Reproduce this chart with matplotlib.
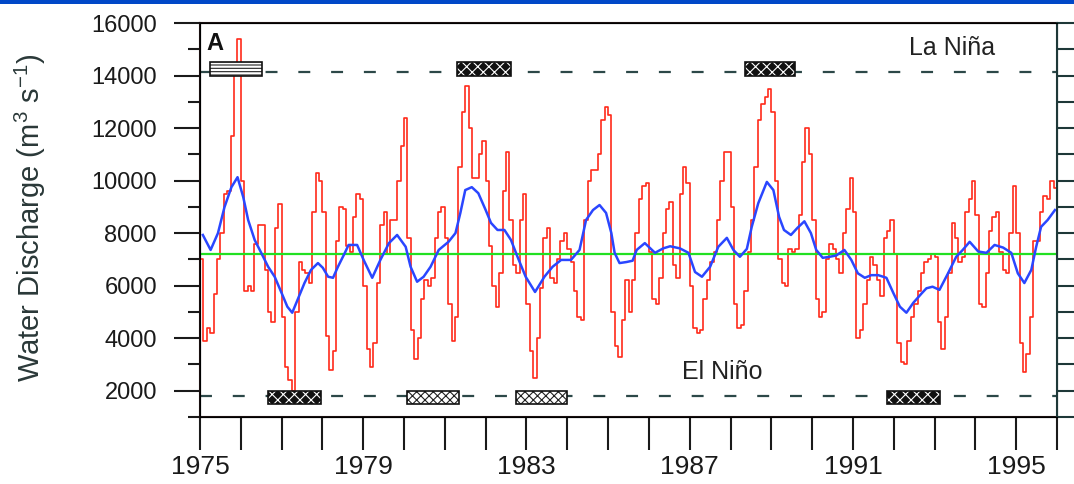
import numpy as np
import matplotlib
matplotlib.use("Agg")
import matplotlib.pyplot as plt
from matplotlib.patches import Rectangle

plt.rcParams['font.family'] = ['Liberation Sans', 'DejaVu Sans']
plt.rcParams['mathtext.fontset'] = 'custom'
plt.rcParams['mathtext.rm'] = 'Liberation Sans'
plt.rcParams['mathtext.it'] = 'Liberation Sans:italic'
plt.rcParams['mathtext.default'] = 'regular'
plt.rcParams['lines.scale_dashes'] = False

# monthly water discharge (m3/s), Jan 1975 .. Dec 1995, one row per year
q1975 = [7000, 3900, 4400, 4200, 5700, 7000, 8000, 9500, 9600, 11700, 14100, 15400]
q1976 = [10000, 5800, 6000, 5800, 7600, 8300, 8300, 6600, 5000, 4600, 8200, 9100]
q1977 = [4800, 2900, 2400, 2000, 5000, 6900, 6600, 6500, 6100, 8800, 10300, 10000]
q1978 = [8800, 4100, 2800, 3500, 7700, 9000, 8900, 7500, 7300, 8600, 9500, 9300]
q1979 = [6000, 3600, 2900, 3800, 6100, 8300, 8800, 7200, 8500, 8500, 10000, 11300]
q1980 = [12400, 7800, 4300, 3200, 4000, 5500, 6200, 6000, 6300, 7800, 8800, 9000]
q1981 = [7800, 5300, 3900, 4800, 10500, 12600, 13600, 12000, 10100, 10100, 11000, 11500]
q1982 = [10000, 7500, 6000, 5200, 6500, 9600, 11100, 8500, 6800, 6500, 8500, 9500]
q1983 = [5300, 3500, 2500, 4000, 5900, 7800, 8200, 6300, 6100, 7000, 7700, 8000]
q1984 = [7400, 6900, 5800, 4800, 4700, 8500, 10000, 10400, 10400, 11000, 12300, 12800]
q1985 = [12500, 5000, 3700, 3300, 4700, 6200, 5000, 6200, 8000, 9300, 9800, 9900]
q1986 = [7300, 5500, 5300, 6300, 8000, 8900, 9200, 6800, 6300, 9500, 10500, 9900]
q1987 = [6000, 4400, 4200, 4300, 5500, 6200, 6900, 7300, 8500, 10000, 11100, 11100]
q1988 = [9000, 5300, 4400, 4500, 5800, 7300, 8500, 10500, 12300, 12900, 13200, 13500]
q1989 = [12600, 10000, 7000, 6100, 6000, 7400, 7300, 7400, 8700, 10700, 12000, 11000]
q1990 = [8500, 5500, 4800, 5000, 7000, 7600, 7400, 7000, 6500, 8000, 8900, 10100]
q1991 = [8800, 4000, 4300, 5300, 6200, 7100, 6800, 6200, 5600, 7800, 8100, 8500]
q1992 = [7200, 3800, 3100, 3000, 3900, 4800, 5300, 5800, 6500, 6900, 7000, 7200]
q1993 = [7100, 4600, 3600, 4800, 6500, 8400, 7800, 6900, 7100, 8800, 9300, 10000]
q1994 = [8700, 5300, 5200, 6500, 8100, 8600, 8800, 7300, 6600, 6500, 8000, 9800]
q1995 = [8000, 3800, 2700, 3400, 4800, 7700, 7700, 8800, 9400, 9300, 10000, 9700]

# smoothed discharge (blue curve)
smooth_t = [1975.07, 1975.26, 1975.44, 1975.6, 1975.77, 1975.92,
            1976.06, 1976.18, 1976.34, 1976.5, 1976.67, 1976.83,
            1977.0, 1977.14, 1977.26, 1977.39, 1977.56, 1977.72, 1977.89,
            1978.01, 1978.14, 1978.26, 1978.38, 1978.55, 1978.64, 1978.85,
            1979.01, 1979.22, 1979.42, 1979.63, 1979.83,
            1980.04, 1980.16, 1980.32, 1980.48, 1980.65, 1980.85,
            1981.09, 1981.26, 1981.38, 1981.5, 1981.66, 1981.82,
            1982.0, 1982.13, 1982.29, 1982.46, 1982.62, 1982.78, 1982.98,
            1983.21, 1983.44, 1983.64, 1983.85,
            1984.09, 1984.3, 1984.46, 1984.63, 1984.79, 1984.95,
            1985.08, 1985.16, 1985.28, 1985.45, 1985.6, 1985.7, 1985.9,
            1986.15, 1986.35, 1986.52, 1986.76, 1986.97,
            1987.13, 1987.3, 1987.5, 1987.7, 1987.91,
            1988.07, 1988.23, 1988.4, 1988.52, 1988.68, 1988.89,
            1989.05, 1989.19, 1989.31, 1989.48, 1989.64, 1989.81, 1989.97,
            1990.1, 1990.26, 1990.43, 1990.59, 1990.79, 1990.96,
            1991.12, 1991.29, 1991.45, 1991.62, 1991.82, 1991.99,
            1992.15, 1992.31, 1992.48, 1992.68, 1992.8, 1992.95,
            1993.12, 1993.33, 1993.53, 1993.69, 1993.86,
            1994.07, 1994.27, 1994.47, 1994.68, 1994.88,
            1995.04, 1995.2, 1995.37, 1995.49, 1995.61, 1995.77, 1995.95]
smooth_q = [7930, 7360, 8000, 8990, 9750, 10130,
            9370, 8500, 7740, 7250, 6720, 6340,
            5720, 5200, 4970, 5460, 6100, 6600, 6860,
            6680, 6340, 6300, 6720, 7250, 7550, 7550,
            6980, 6300, 6980, 7620, 7930,
            7480, 6720, 6150, 6340, 6720, 7360,
            7670, 8000, 8770, 9640, 9750, 9520,
            8880, 8390, 8120, 8120, 7740, 7100, 6340,
            5760, 6340, 6720, 6980,
            6980, 7360, 8500, 8880, 9070, 8770,
            8000, 7250, 6860, 6900, 6950, 7360, 7620,
            7250, 7420, 7500, 7420, 7250,
            6520, 6340, 6720, 7480, 7820,
            7360, 7100, 7400, 8240, 9140, 9950,
            9640, 8620, 8120, 7930, 8200, 8450, 8000,
            7360, 7060, 7100, 7150, 7360, 6980,
            6470, 6300, 6400, 6400, 6300, 5720,
            5200, 4970, 5350, 5700, 5900, 5960,
            5840, 6470, 7100, 7360, 7670,
            7300, 7250, 7550, 7450, 7250,
            6470, 6100, 6600, 7480, 8240, 8500, 8880]

mean_q = 7200
nina_level = 14120
nino_level = 1800

# ENSO events (start, end, dark pattern?)
nina_events = [(1975.25, 1976.52, False), (1981.30, 1982.62, True), (1988.36, 1989.58, True)]
nino_events = [(1976.67, 1977.97, True), (1980.07, 1981.35, False),
               (1982.75, 1984.00, False), (1991.84, 1993.14, True)]

year_labels = [1975, 1979, 1983, 1987, 1991, 1995]


def event_box(ax, start, end, y0, y1, dark, light_hatch):
    if dark:
        ax.add_patch(Rectangle((start, y0), end - start, y1 - y0, facecolor='#111111',
                               edgecolor='white', hatch='xxx', lw=0, zorder=6))
    else:
        ax.add_patch(Rectangle((start, y0), end - start, y1 - y0, facecolor='white',
                               edgecolor='#222222', hatch=light_hatch, lw=0, zorder=6))
    ax.add_patch(Rectangle((start, y0), end - start, y1 - y0, facecolor='none',
                           edgecolor='#111111', lw=1.2, zorder=7))


plt.rcParams['hatch.linewidth'] = 0.8
fig = plt.figure(figsize=(10.74, 4.84), dpi=100)
ax = fig.add_axes([200 / 1074, 1 - 417 / 484, 857 / 1074, 394 / 484])

monthly = np.concatenate([q1975, q1976, q1977, q1978, q1979, q1980, q1981, q1982,
                          q1983, q1984, q1985, q1986, q1987, q1988, q1989, q1990,
                          q1991, q1992, q1993, q1994, q1995])
t = 1975 + np.arange(len(monthly) + 1) / 12.0
ax.step(t, np.append(monthly, monthly[-1]), where='post', color='#ff2a1a', lw=1.2, zorder=3)
ax.axhline(mean_q, color='#22e022', lw=1.6, zorder=4)
ax.plot(smooth_t, smooth_q, color='#2a46ff', lw=1.8, zorder=5)

# ENSO threshold lines
for lev in (nina_level, nino_level):
    ax.axhline(lev, color='#2c4848', lw=1.6, dashes=(8.6, 15), zorder=2)

for s, e, dark in nina_events:
    event_box(ax, s, e, 14000, 14500, dark, '-----')
for s, e, dark in nino_events:
    event_box(ax, s, e, 1480, 1990, dark, 'xxxx')

ax.text(0.007, 0.978, 'A', transform=ax.transAxes, ha='left', va='top',
        fontsize=17, fontweight='bold', color='#111111')
ax.text(1993.43, 15040, 'La Niña', ha='center', va='center', fontsize=18, color='#222222')
ax.text(1987.79, 2720, 'El Niño', ha='center', va='center', fontsize=18, color='#222222')

# axes, ticks
ax.set_xlim(1975, 1996)
ax.set_ylim(1000, 16000)
years = list(range(1975, 1997))
ax.set_xticks(years)
ax.set_xticklabels([str(y) if y in year_labels else '' for y in years])
ax.set_yticks(range(2000, 16001, 2000))
ax.set_yticks(range(1000, 16000, 2000), minor=True)
ax.tick_params(axis='x', length=24, width=1.5, pad=3, labelsize=19,
               colors='#1a1a1a', direction='out')
ax.tick_params(axis='y', which='major', length=19, width=1.5, pad=12,
               labelsize=17, colors='#1a1a1a', direction='out')
ax.tick_params(axis='y', which='minor', length=9, width=1.5, colors='#1a1a1a', direction='out')
for side in ('left', 'bottom', 'top'):
    ax.spines[side].set_color('#1a1010')
    ax.spines[side].set_linewidth(1.5)

ax2 = ax.twinx()
ax2.set_ylim(1000, 16000)
ax2.set_yticks(range(1000, 16001, 1000))
ax2.tick_params(axis='y', length=12, width=1.5, colors='#1e3838',
                labelright=False, direction='out')
ax2.spines['right'].set_color('#1e3838')
ax2.spines['right'].set_linewidth(1.5)

fig.text(0.028, 0.55, 'Water Discharge (m$^{3}$ s$^{-1}$)', rotation=90,
         ha='center', va='center', fontsize=21, color='#2a3838')

# blue band along the top edge
fig.patches.append(Rectangle((0, 1 - 4 / 484), 1, 4 / 484, transform=fig.transFigure,
                             facecolor='#0048c8', edgecolor='none'))

fig.savefig('out.png', dpi=100)
